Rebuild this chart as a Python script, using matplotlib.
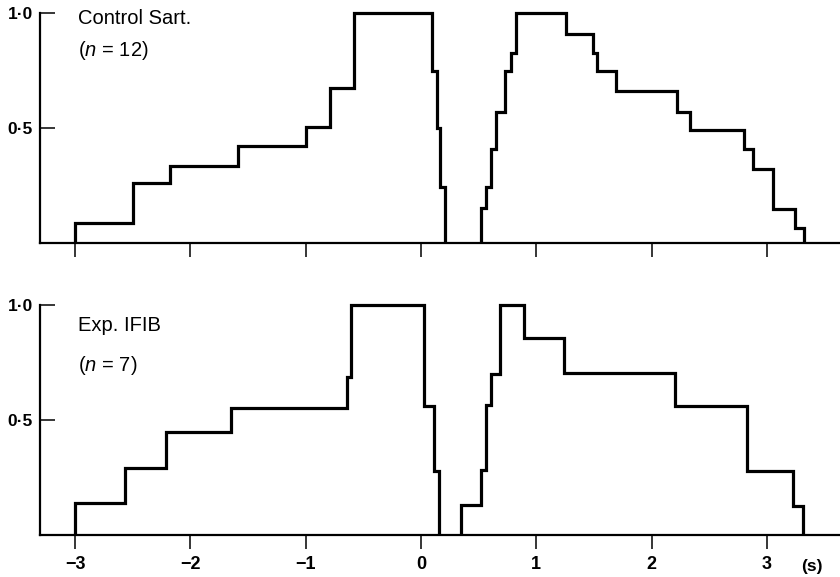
import matplotlib
matplotlib.use("Agg")
import matplotlib.pyplot as plt

plt.rcParams['font.family'] = ['Liberation Sans', 'DejaVu Sans']
plt.rcParams['mathtext.fontset'] = 'custom'
plt.rcParams['mathtext.it'] = 'Liberation Sans:italic'
plt.rcParams['mathtext.rm'] = 'Liberation Sans'

# Control Sart. (n = 12): bin edges (s) and normalised values
ctrl_edges = [-3.0, -2.5, -2.18, -1.59, -1.0, -0.79, -0.58, 0.10, 0.135, 0.165, 0.21,
              0.52, 0.56, 0.605, 0.65, 0.73, 0.78, 0.82, 1.255, 1.495, 1.53, 1.69,
              2.22, 2.33, 2.80, 2.88, 3.05, 3.24, 3.32]
ctrl_vals = [0.086, 0.262, 0.336, 0.42, 0.503, 0.673, 1.0, 0.748, 0.499, 0.242, 0.0,
             0.151, 0.242, 0.41, 0.567, 0.745, 0.827, 1.0, 0.909, 0.827, 0.745, 0.661,
             0.571, 0.491, 0.409, 0.32, 0.148, 0.067]

# Exp. IFIB (n = 7)
exp_edges = [-3.0, -2.57, -2.21, -1.65, -0.64, -0.61, 0.026, 0.115, 0.156,
             0.347, 0.52, 0.56, 0.605, 0.685, 0.893, 1.24, 2.20, 2.83, 3.23, 3.31]
exp_vals = [0.14, 0.29, 0.449, 0.551, 0.688, 1.0, 0.562, 0.28, 0.0,
            0.13, 0.283, 0.565, 0.699, 1.0, 0.855, 0.706, 0.562, 0.28, 0.126]

x_ticks = [-3, -2, -1, 0, 1, 2, 3]
x_labels = ['\u22123', '\u22122', '\u22121', '0', '1', '2', '3']
y_ticks = [0.5, 1.0]
y_labels = ['0\u00b75', '1\u00b70']

panels = [
    (ctrl_edges, ctrl_vals, 'Control Sart.', '($n$ = 12)', 0.974, 0.835),
    (exp_edges, exp_vals, 'Exp. IFIB', '($n$ = 7)', 0.911, 0.739),
]


def draw_humps(ax, edges, vals):
    # split at the empty bin so the gap shows only the axis line
    start = 0
    for i, v in enumerate(vals + [0.0]):
        if v == 0.0:
            if i > start:
                ax.stairs(vals[start:i], edges[start:i + 1], baseline=0,
                          color='black', linewidth=2.3, clip_on=False)
            start = i + 1


fig = plt.figure(figsize=(8.4, 5.77), dpi=100)
ax_top = fig.add_axes([0.0476, 0.5789, 0.9524, 0.399])
ax_bot = fig.add_axes([0.0476, 0.0728, 0.9524, 0.3986])

for ax, (edges, vals, name, n_txt, y1, y2) in zip([ax_top, ax_bot], panels):
    draw_humps(ax, edges, vals)
    ax.set_xlim(-3.304, 3.634)
    ax.set_ylim(0, 1.0)
    for s in ['top', 'right']:
        ax.spines[s].set_visible(False)
    for s in ['left', 'bottom']:
        ax.spines[s].set_linewidth(1.6)
    ax.set_xticks(x_ticks)
    ax.set_yticks(y_ticks)
    ax.set_yticklabels(y_labels, fontsize=12.5, fontweight='bold')
    ax.tick_params(axis='x', direction='out', length=10, width=1.1, pad=5)
    ax.tick_params(axis='y', direction='in', length=11, width=1.1, pad=5)
    ax.text(-2.975, y1, name, fontsize=14.5, va='center', ha='left')
    ax.text(-2.975, y2, n_txt, fontsize=14.5, va='center', ha='left')

ax_top.set_xticklabels([])
ax_bot.set_xticklabels(x_labels, fontsize=13, fontweight='bold')
ax_bot.text(3.39, -0.135, '(s)', fontsize=12.5, fontweight='bold',
            ha='center', va='center', clip_on=False)

fig.savefig('out.png', dpi=100)
